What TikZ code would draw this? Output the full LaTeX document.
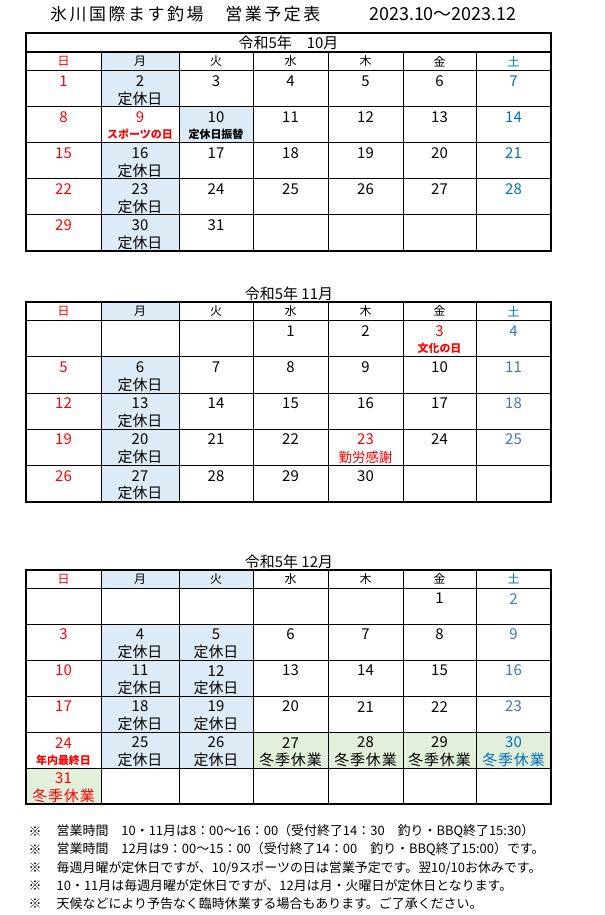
\documentclass[tikz,border=0pt]{standalone}
\usepackage{fontspec}
\setmainfont{Noto Sans CJK JP}
\newfontfamily\titlefont[LetterSpace=15]{Noto Sans CJK JP}
\newfontfamily\widefont[LetterSpace=6]{Noto Sans CJK JP}

\definecolor{sunred}{RGB}{255,0,0}
\definecolor{satblue}{RGB}{0,112,192}
\definecolor{satgray}{RGB}{68,114,196}
\definecolor{offblue}{RGB}{221,235,247}
\definecolor{wintergreen}{RGB}{226,239,218}

\tikzset{
  num/.style={inner sep=0pt,font=\fontsize{15}{15}\selectfont},
  wday/.style={inner sep=0pt,font=\fontsize{12}{12}\selectfont},
  closed/.style={inner sep=0pt,font=\fontsize{15}{15}\selectfont},
  winter/.style={inner sep=0pt,font=\widefont\fontsize{15}{15}\selectfont},
  holi/.style={inner sep=0pt,text=sunred,font=\fontsize{11}{11}\selectfont\bfseries},
  heading/.style={inner sep=0pt,font=\fontsize{15}{15}\selectfont},
  note/.style={inner sep=0pt,font=\fontsize{13}{13}\selectfont},
  cell/.style={line width=1bp},
  frame/.style={line width=2.2bp},
  col0/.style={text=sunred},
  wk0/.style={text=sunred},
  wk6/.style={text=satblue},
  holA9/.style={text=sunred},
  holB3/.style={text=sunred},
  holB23/.style={text=sunred},
  holC30/.style={text=satblue},
}

% day -> column \dc, row \dr, row top \ya, row bottom \yb, number height \yn
\newcommand\placeday[1]{%
  \pgfmathtruncatemacro\dc{mod(#1-1+\off,7)}%
  \pgfmathtruncatemacro\dcc{\dc+1}%
  \pgfmathtruncatemacro\dr{div(#1-1+\off,7)}%
  \pgfmathsetmacro\ya{\ytop+\rowh*\dr}%
  \pgfmathsetmacro\yb{\ya+\rowh}%
  \pgfmathsetmacro\yn{\ya+10.3}}

\begin{document}
\begin{tikzpicture}[x=1bp,y=-1bp]
  \fill[white] (0,0) rectangle (605,915);
  \useasboundingbox (0,0) rectangle (605,915);

  % Column borders and centres
  \foreach \x [count=\i from 0] in {26,101,179,253,328,403,476,551}
    \coordinate (cb\i) at (\x,0);
  \foreach \x [count=\i from 0] in {63.5,140,216,290.5,365.5,439.5,513.5}
    \coordinate (cm\i) at (\x,0);

  % Title
  \node[anchor=west,inner sep=0pt,font=\titlefont\fontsize{17}{17}\selectfont] (title)
    at (50,13.7) {氷川国際ます釣場　営業予定表};
  \node[anchor=west,inner sep=0pt,font=\fontsize{18}{18}\selectfont] (period)
    at (369,13.7) {2023.10～2023.12};

  % Shaded cells
  \fill[offblue] (cb1 |- 0,52) rectangle (cb2 |- 0,70.7);
  \fill[offblue] (cb1 |- 0,302) rectangle (cb2 |- 0,320.5);
  \fill[offblue] (cb1 |- 0,570) rectangle (cb3 |- 0,588.3);
  \foreach \mon/\off/\ytop/\rowh/\days/\c in {
      A/0/70.7/36.06/{2,10,16,23,30}/offblue,
      B/3/320.5/36.25/{6,13,20,27}/offblue,
      C/5/588.3/36/{4,5,11,12,18,19,25,26}/offblue,
      C/5/588.3/36/{27,28,29,30,31}/wintergreen}
    \foreach \d in \days {\placeday{\d}
      \fill[\c] (cb\dc |- 0,\ya) rectangle (cb\dcc |- 0,\yb);}

  % Grids, weekdays and dates
  \foreach \mon/\off/\ndays/\yfr/\ywd/\ytop/\rowh/\nrow/\satc in {
      A/0/31/32.7/52/70.7/36.06/5/satblue,
      B/3/30/302/302/320.5/36.25/5/satgray,
      C/5/31/570/570/588.3/36/6/satgray}{
    \pgfmathsetmacro\yend{\ytop+\rowh*\nrow}
    \foreach \i in {1,...,6} \draw[cell] (cb\i |- 0,\ywd) -- (cb\i |- 0,\yend);
    \foreach \k in {0,...,\nrow} {\pgfmathsetmacro\y{\ytop+\rowh*\k}
      \draw[cell] (cb0 |- 0,\y) -- (cb7 |- 0,\y);}
    \draw[frame] (cb0 |- 0,\yfr) rectangle (cb7 |- 0,\yend);
    \pgfmathsetmacro\ymid{(\ywd+\ytop)/2}
    \foreach \w [count=\i from 0] in {日,月,火,水,木,金,土}
      \node[wday,wk\i/.try] (\mon w\i) at (cm\i |- 0,\ymid) {\w};
    \tikzset{col6/.style={text=\satc}}
    \foreach \d in {1,...,\ndays}{\placeday{\d}
      \node[num,col\dc/.try,hol\mon\d/.try] (\mon\d) at (cm\dc |- 0,\yn) {\d};}
  }

  % Month headings
  \draw[line width=1.6bp] (cb0 |- 0,52) -- (cb7 |- 0,52);
  \node[heading] (Ahead) at (288.5,42.5) {令和5年　10月};
  \node[heading] (Bhead) at (289,294) {令和5年 11月};
  \node[heading] (Chead) at (289,562) {令和5年 12月};

  % Labels under the dates
  \foreach \n in {A2,A16,A23,A30,B6,B13,B20,B27,C4,C5,C11,C12,C18,C19,C25,C26}
    \node[closed] (\n-l) at ([yshift=-17.5bp]\n) {定休日};
  \node[holi] (A9-l) at ([yshift=-17.5bp]A9) {スポーツの日};
  \node[holi,text=black] (A10-l) at ([yshift=-17.5bp]A10) {定休日振替};
  \node[holi] (B3-l) at ([yshift=-17.5bp]B3) {文化の日};
  \node[closed,text=sunred,font=\fontsize{13.5}{13.5}\selectfont] (B23-l)
    at ([yshift=-17.5bp]B23) {勤労感謝};
  \node[holi] (C24-l) at ([yshift=-17.5bp]C24) {年内最終日};
  \foreach \n/\c in {C27/black,C28/black,C29/black,C30/satblue,C31/sunred}
    \node[winter,text=\c] (\n-l) at ([yshift=-17.5bp]\n) {冬季休業};

  % Notes
  \foreach \t [count=\i] in {
      {営業時間　10・11月は8：00～16：00（受付終了14：30　釣り・BBQ終了15:30）},
      {営業時間　12月は9：00～15：00（受付終了14：00　釣り・BBQ終了15:00）です。},
      {毎週月曜が定休日ですが、10/9スポーツの日は営業予定です。翌10/10お休みです。},
      {10・11月は毎週月曜が定休日ですが、12月は月・火曜日が定休日となります。},
      {天候などにより予告なく臨時休業する場合もあります。ご了承ください。}}{
    \pgfmathsetmacro\y{813.4+18.1*\i}
    \node[note] (mark\i) at (35,\y) {※};
    \node[note,anchor=west] (note\i) at (56.5,\y) {\t};
  }
\end{tikzpicture}
\end{document}
